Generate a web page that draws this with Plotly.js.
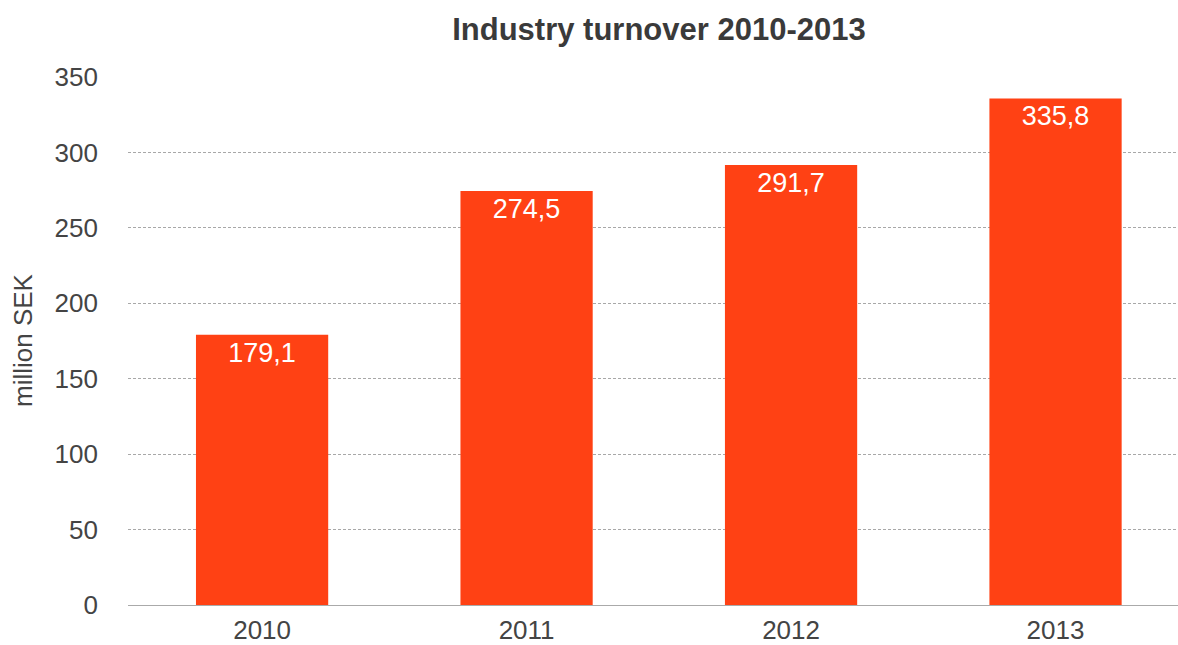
<!DOCTYPE html>
<html>
<head>
<meta charset="utf-8">
<script src="https://cdn.plot.ly/plotly-3.0.1.min.js"></script>
<style>html,body{margin:0;padding:0;background:#fff;}#chart{width:1178px;height:645px;}</style>
</head>
<body>
<div id="chart"></div>
<script>
const years = ['2010', '2011', '2012', '2013'];
const turnover = [179.1, 274.5, 291.7, 335.8];
const yTicks = [0, 50, 100, 150, 200, 250, 300, 350];

const labels = turnover.map(v => v.toFixed(1).replace('.', ','));

const trace = {
  type: 'bar',
  x: years,
  y: turnover,
  text: labels,
  textposition: 'inside',
  insidetextanchor: 'end',
  textangle: 0,
  textfont: {family: 'Liberation Sans, Arial, sans-serif', size: 27, color: '#ffffff'},
  marker: {color: '#FF4114', line: {width: 0}},
  width: 0.5,
  hoverinfo: 'none',
  cliponaxis: false
};

const layout = {
  width: 1178,
  height: 645,
  margin: {l: 128, r: 0, t: 77, b: 40},
  paper_bgcolor: '#ffffff',
  plot_bgcolor: '#ffffff',
  showlegend: false,
  font: {family: 'Liberation Sans, Arial, sans-serif', color: '#444444'},
  title: {
    text: '<b>Industry turnover 2010-2013</b>',
    font: {family: 'Liberation Sans, Arial, sans-serif', size: 31, color: '#3a3a3a'},
    x: 0.5594, xanchor: 'center', xref: 'container',
    y: 0.955, yanchor: 'middle', yref: 'container'
  },
  xaxis: {
    type: 'category',
    range: [-0.507, 3.463],
    showgrid: false,
    zeroline: false,
    showline: true,
    linecolor: '#aaaaaa',
    linewidth: 1,
    ticks: '',
    ticklabelstandoff: 2,
    tickfont: {size: 26, color: '#444444'},
    fixedrange: true
  },
  yaxis: {
    range: [0, 350],
    tickvals: yTicks,
    ticktext: yTicks.map(String),
    showgrid: true,
    gridcolor: '#a8a8a8',
    gridwidth: 1,
    griddash: '3px,2px',
    zeroline: false,
    showline: false,
    ticks: '',
    ticklabelstandoff: 29,
    tickfont: {size: 26, color: '#444444'},
    fixedrange: true
  },
  annotations: [{
    text: 'million SEK',
    textangle: -90,
    xref: 'paper', yref: 'paper',
    x: (23 - 128) / 1050, y: (605 - 340) / 528,
    xanchor: 'center', yanchor: 'middle',
    showarrow: false,
    font: {family: 'Liberation Sans, Arial, sans-serif', size: 26, color: '#444444'}
  }]
};

Plotly.newPlot('chart', [trace], layout, {displayModeBar: false, staticPlot: true});
</script>
</body>
</html>
